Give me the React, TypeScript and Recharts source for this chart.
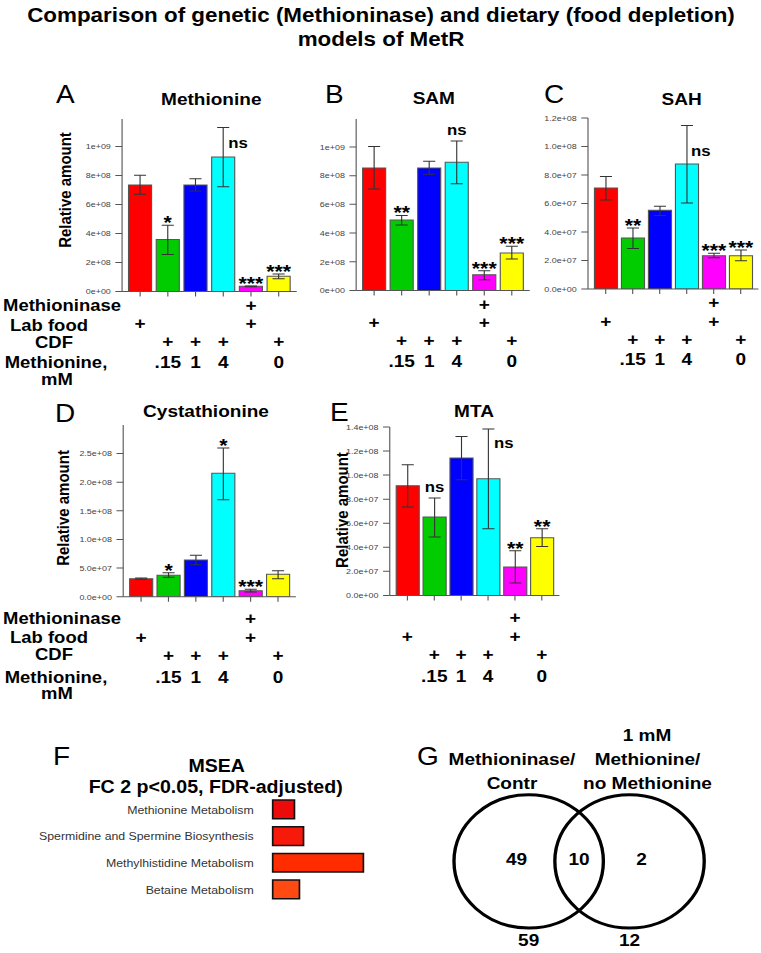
import React from "react";
import {
  ComposedChart,
  BarChart,
  ScatterChart,
  Bar,
  Scatter,
  XAxis,
  YAxis,
  ErrorBar,
  LabelList,
  Cell,
} from "recharts";

// the published figure is stretched sideways, so everything is drawn narrower and scaled
const S = 1.12;
const u = (v: number) => v / S;
const FONT = '"Liberation Sans", Arial, Helvetica, sans-serif';

// groups shared by panels A-E
const groups = ["Lab food", "CDF .15", "CDF 1", "CDF 4", "Methioninase", "CDF 0"];
const barColors = ["#ff0000", "#00cc00", "#0000ff", "#00ffff", "#ff00ff", "#ffff00"];
const rowMethioninase = ["", "", "", "", "+", ""];
const rowLabFood = ["+", "", "", "", "+", ""];
const rowCDF = ["", "+", "+", "+", "", "+"];
const rowMethionine = ["", ".15", "1", "4", "", "0"];
const rowNames = ["Methioninase", "Lab food", "CDF", "Methionine,", "mM"];

// A - Methionine
const methionineMean = [7.34e8, 3.58e8, 7.34e8, 9.28e8, 0.35e8, 1.04e8];
const methionineLow = [6.7e8, 2.54e8, 6.93e8, 7.23e8, 0.32e8, 0.88e8];
const methionineHigh = [8.01e8, 4.57e8, 7.78e8, 11.32e8, 0.38e8, 1.2e8];
const methionineSig = ["", "*", "", "ns", "***", "***"];

// B - SAM
const samMean = [8.53e8, 4.91e8, 8.53e8, 8.93e8, 1.09e8, 2.61e8];
const samLow = [7.07e8, 4.56e8, 8.1e8, 7.44e8, 0.75e8, 2.19e8];
const samHigh = [10.04e8, 5.23e8, 9.0e8, 10.42e8, 1.37e8, 3.07e8];
const samSig = ["", "**", "", "ns", "***", "***"];

// C - SAH
const sahMean = [7.09e7, 3.58e7, 5.52e7, 8.77e7, 2.34e7, 2.34e7];
const sahLow = [6.25e7, 2.85e7, 5.16e7, 6.04e7, 2.2e7, 1.99e7];
const sahHigh = [7.9e7, 4.28e7, 5.8e7, 11.48e7, 2.5e7, 2.74e7];
const sahSig = ["", "**", "", "ns", "***", "***"];

// D - Cystathionine
const cystaMean = [3.15e7, 3.74e7, 6.42e7, 21.57e7, 1.05e7, 3.92e7];
const cystaLow = [3.04e7, 3.39e7, 5.6e7, 16.96e7, 0.82e7, 3.15e7];
const cystaHigh = [3.26e7, 4.2e7, 7.24e7, 26.0e7, 1.3e7, 4.55e7];
const cystaSig = ["", "*", "", "*", "***", ""];

// E - MTA
const mtaMean = [9.12e7, 6.52e7, 11.42e7, 9.7e7, 2.36e7, 4.8e7];
const mtaLow = [7.35e7, 4.85e7, 9.62e7, 5.54e7, 1.03e7, 4.07e7];
const mtaHigh = [10.86e7, 8.1e7, 13.22e7, 13.83e7, 3.72e7, 5.54e7];
const mtaSig = ["", "ns", "", "ns", "**", "**"];

const ticksE9 = [0, 2e8, 4e8, 6e8, 8e8, 1e9];
const ticksSah = [0, 2e7, 4e7, 6e7, 8e7, 1e8, 1.2e8];
const ticksCysta = [0, 5e7, 1e8, 1.5e8, 2e8, 2.5e8];
const ticksMta = [0, 2e7, 4e7, 6e7, 8e7, 1e8, 1.2e8, 1.4e8];

// F - MSEA
const pathways = [
  "Methionine Metabolism",
  "Spermidine and Spermine Biosynthesis",
  "Methylhistidine Metabolism",
  "Betaine Metabolism",
];
const enrichment = [2.4, 3.4, 10, 2.95];
const pathwayColors = ["#ec0a0a", "#f7190a", "#ff2c00", "#ff4a14"];

// G - Venn counts
const vennOnlyLeft = 49;
const vennBoth = 10;
const vennOnlyRight = 2;
const vennTotalLeft = 59;
const vennTotalRight = 12;

type Frame = { l: number; t: number; r: number; b: number };
type PanelDef = {
  means: number[];
  lows: number[];
  highs: number[];
  sig: string[];
  yMax: number;
  ticks: number[];
  digits: number;
  frame: Frame;
  rows: number[];
  nsRight?: { dx: number; dy: number };
};

const rowsTop = [19.3, 37.8, 55.8, 76.3];
const rowsBottom = [27.6, 46.6, 64.3, 86.3];

const panels: PanelDef[] = [
  { means: methionineMean, lows: methionineLow, highs: methionineHigh, sig: methionineSig, yMax: 1.19e9, ticks: ticksE9, digits: 0,
    frame: { l: 122, t: 119.3, r: 296.7, b: 291.7 }, rows: rowsTop, nsRight: { dx: 5, dy: -12.7 } },
  { means: samMean, lows: samLow, highs: samHigh, sig: samSig, yMax: 1.195e9, ticks: ticksE9, digits: 0,
    frame: { l: 355.7, t: 119.3, r: 529.3, b: 290.7 }, rows: rowsTop },
  { means: sahMean, lows: sahLow, highs: sahHigh, sig: sahSig, yMax: 1.2e8, ticks: ticksSah, digits: 1,
    frame: { l: 588.3, t: 118.3, r: 758.7, b: 289.3 }, rows: rowsTop, nsRight: { dx: 4, dy: -11.6 } },
  { means: cystaMean, lows: cystaLow, highs: cystaHigh, sig: cystaSig, yMax: 3.0e8, ticks: ticksCysta, digits: 1,
    frame: { l: 123.3, t: 425, r: 296, b: 596.7 }, rows: rowsBottom },
  { means: mtaMean, lows: mtaLow, highs: mtaHigh, sig: mtaSig, yMax: 1.4e8, ticks: ticksMta, digits: 1,
    frame: { l: 389.3, t: 427.3, r: 559, b: 595.7 }, rows: rowsBottom, nsRight: { dx: 5.6, dy: -35 } },
];

const sci = (d: number) => (v: number) =>
  v.toExponential(d).replace(/e([+-])(\d)$/, (_m, s, n) => "e" + s + "0" + n);

function RowTick(props: any) {
  const { x, y, payload, rows } = props;
  const i = groups.indexOf(payload.value);
  const base = y - 5;
  const lines = [rowMethioninase, rowLabFood, rowCDF, rowMethionine];
  return (
    <g>
      {lines.map((r, k) =>
        r[i] ? (
          <text key={k} x={x} y={base + rows[k]} textAnchor="middle" fontSize={17} fontWeight="bold" fill="#000" fontFamily={FONT}>
            {r[i]}
          </text>
        ) : null
      )}
    </g>
  );
}

function PathwayTick(props: any) {
  const { x, y, payload } = props;
  return (
    <text x={x} y={y} textAnchor="end" dominantBaseline="central" fontSize={11} fill="#333" fontFamily={FONT}>
      {payload.value}
    </text>
  );
}

function SigLabel({ p, def }: { p: any; def: PanelDef }) {
  const vb = p.viewBox && p.viewBox.width != null ? p.viewBox : p;
  const x = Number(vb.x);
  const y = Number(vb.y);
  const w = Number(vb.width);
  const h = Number(vb.height);
  const i = Number(p.value);
  const text = def.sig[i];
  if (!text || isNaN(x)) return null;
  const top = Math.min(y, y + h);
  const base = Math.max(y, y + h);
  const pxPer = (base - top) / def.means[i];
  const errTop = base - def.highs[i] * pxPer;
  const cx = x + w / 2;
  const star = text.includes("*");
  const fs = star ? 19 : 15;
  if (text === "ns" && i === 3 && def.nsRight) {
    return (
      <text x={cx + u(def.nsRight.dx)} y={top + def.nsRight.dy + 0.26 * fs} fontSize={fs} fontWeight="bold" fontFamily={FONT} fill="#000">
        {text}
      </text>
    );
  }
  const yb = star ? errTop - 7 + 0.575 * fs : errTop - 10 + 0.26 * fs;
  return (
    <text x={cx} y={yb} textAnchor="middle" fontSize={fs} fontWeight="bold" fontFamily={FONT} fill="#000">
      {text}
    </text>
  );
}

function BarPanel({ def }: { def: PanelDef }) {
  const { frame } = def;
  const plotW = u(frame.r - frame.l);
  const plotH = frame.b - frame.t;
  const PL = 54;
  const TOP = 40;
  const BOTTOM = 100;
  const RIGHT = 2;
  const data = groups.map((g, i) => ({
    group: g,
    idx: i,
    mean: def.means[i],
    err: [def.means[i] - def.lows[i], def.highs[i] - def.means[i]],
  }));
  return (
    <div style={{ position: "absolute", left: u(frame.l) - PL, top: frame.t - TOP }}>
      <ComposedChart
        width={PL + plotW + RIGHT}
        height={TOP + plotH + BOTTOM}
        data={data}
        margin={{ top: TOP, right: RIGHT, bottom: 0, left: PL - 40 }}
      >
        <XAxis
          dataKey="group"
          height={BOTTOM}
          interval={0}
          tickSize={5}
          tickMargin={0}
          padding={{ left: 3.75, right: 3.75 }}
          stroke="#555"
          tick={<RowTick rows={def.rows} />}
        />
        <XAxis xAxisId="top" orientation="top" dataKey="group" height={0} tick={false} tickLine={false} stroke="#555" />
        <YAxis
          domain={[0, def.yMax]}
          ticks={def.ticks}
          allowDataOverflow
          width={40}
          tickSize={6}
          tickMargin={4}
          stroke="#555"
          tickFormatter={sci(def.digits)}
          tick={{ fontSize: 8, fill: "#444", fontFamily: FONT }}
        />
        <YAxis yAxisId="right" orientation="right" width={0} tick={false} tickLine={false} stroke="#555" />
        <Bar dataKey="mean" barSize={20.6} stroke="#555" strokeWidth={1} isAnimationActive={false}>
          {barColors.map((c) => (
            <Cell key={c} fill={c} />
          ))}
          <ErrorBar dataKey="err" width={5.4} stroke="#333" strokeWidth={1} />
          <LabelList dataKey="idx" content={(p: any) => <SigLabel p={p} def={def} />} />
        </Bar>
      </ComposedChart>
    </div>
  );
}

function MseaPanel() {
  const data = pathways.map((name, i) => ({ name, value: enrichment[i] }));
  const plotLeft = u(272.7);
  const plotW = u(90.7);
  const bandH = 26.7;
  return (
    <div style={{ position: "absolute", left: 0, top: 809.3 - bandH / 2 }}>
      <BarChart
        layout="vertical"
        width={plotLeft + plotW + 4}
        height={bandH * pathways.length}
        data={data}
        margin={{ top: 0, right: 4, bottom: 0, left: plotLeft - 240 }}
      >
        <XAxis type="number" domain={[0, 10]} hide />
        <YAxis
          type="category"
          dataKey="name"
          width={240}
          tickLine={false}
          axisLine={false}
          tickSize={0}
          tickMargin={17}
          interval={0}
          tick={<PathwayTick />}
        />
        <Bar dataKey="value" barSize={18.7} stroke="#111" strokeWidth={1.5} isAnimationActive={false}>
          {pathwayColors.map((c) => (
            <Cell key={c} fill={c} />
          ))}
        </Bar>
      </BarChart>
    </div>
  );
}

function VennPanel() {
  const R = 66.7; // px per unit, circle radius is 1 unit
  const dist = 1.35;
  const xDom = [-1.2, 2.55];
  const yDom = [-1.5, 1.1];
  const circles = [{ x: 0, y: 0 }, { x: dist, y: 0 }];
  const leftLune = (-1 + (dist - 1)) / 2;
  const rightLune = (1 + dist + 1) / 2;
  const counts = [
    { x: (0 + leftLune) / 2, y: 0, t: String(vennOnlyLeft) },
    { x: dist / 2, y: 0, t: String(vennBoth) },
    { x: (dist + rightLune) / 2, y: 0, t: String(vennOnlyRight) },
  ];
  const totals = [
    { x: 0, y: -1, t: String(vennTotalLeft) },
    { x: dist, y: -1, t: String(vennTotalRight) },
  ];
  const txt = (dy: number) => (p: any) => (
    <text x={p.cx} y={p.cy + dy} textAnchor="middle" fontSize={17} fontWeight="bold" fontFamily={FONT} fill="#000">
      {p.payload.t}
    </text>
  );
  return (
    <div style={{ position: "absolute", left: u(529.2) + xDom[0] * R, top: 861.7 - yDom[1] * R }}>
      <ScatterChart
        width={(xDom[1] - xDom[0]) * R}
        height={(yDom[1] - yDom[0]) * R}
        margin={{ top: 0, right: 0, bottom: 0, left: 0 }}
      >
        <XAxis type="number" dataKey="x" domain={xDom} hide />
        <YAxis type="number" dataKey="y" domain={yDom} hide />
        <Scatter
          data={circles}
          isAnimationActive={false}
          shape={(p: any) => <circle cx={p.cx} cy={p.cy} r={R} fill="none" stroke="#000" strokeWidth={3} />}
        />
        <Scatter data={counts} isAnimationActive={false} shape={txt(4)} />
        <Scatter data={totals} isAnimationActive={false} shape={txt(18)} />
      </ScatterChart>
    </div>
  );
}

function Overlay() {
  const T = (x: number, y: number, s: string, fs: number, bold = true, anchor = "middle", fill = "#000") => (
    <text key={s + x + y} x={u(x)} y={y} fontSize={fs} fontWeight={bold ? "bold" : "normal"} textAnchor={anchor as any} fill={fill} fontFamily={FONT}>
      {s}
    </text>
  );
  const rowX = [62, 49, 54, 56, 57];
  const rowYTop = [310.7, 330.7, 348.3, 368.3, 385];
  const rowYBottom = [624, 643.3, 660, 683.3, 699.3];
  const yLabel = (x: number, y: number) => (
    <text
      key={"yl" + y}
      x={u(x)}
      y={y}
      transform={`rotate(-90 ${u(x)} ${y})`}
      textAnchor="middle"
      dominantBaseline="central"
      fontSize={15}
      fontWeight="bold"
      fontFamily={FONT}
    >
      Relative amount
    </text>
  );
  return (
    <svg width={u(761)} height={953} style={{ position: "absolute", left: 0, top: 0, pointerEvents: "none" }}>
      {T(381, 22, "Comparison of genetic (Methioninase) and dietary (food depletion)", 20)}
      {T(381, 46, "models of MetR", 20)}
      {T(56, 103.3, "A", 25, false, "start")}
      {T(325, 103.3, "B", 25, false, "start")}
      {T(544, 103.3, "C", 25, false, "start")}
      {T(55, 422, "D", 25, false, "start")}
      {T(330, 421, "E", 25, false, "start")}
      {T(53, 765, "F", 25, false, "start")}
      {T(417, 765, "G", 25, false, "start")}
      {T(211.3, 105, "Methionine", 17)}
      {T(433.8, 104.5, "SAM", 17)}
      {T(681.7, 105, "SAH", 17)}
      {T(206, 417.5, "Cystathionine", 17)}
      {T(474, 417.5, "MTA", 17)}
      {rowNames.map((n, k) => T(rowX[k], rowYTop[k], n, 16.5))}
      {rowNames.map((n, k) => T(rowX[k], rowYBottom[k], n, 16.5))}
      {yLabel(65, 190)}
      {yLabel(63, 508)}
      {yLabel(342, 510)}
      {T(216.7, 771.7, "MSEA", 17.5)}
      {T(215.7, 793.5, "FC 2 p<0.05, FDR-adjusted)", 17.5)}
      {T(512, 765, "Methioninase/", 17)}
      {T(512, 789.3, "Contr", 17)}
      {T(647, 741, "1 mM", 17)}
      {T(647.5, 765, "Methionine/", 17)}
      {T(647.5, 789.3, "no Methionine", 17)}
    </svg>
  );
}

export default function App() {
  return (
    <div
      style={{
        position: "absolute",
        left: 0,
        top: 0,
        width: u(761),
        height: 953,
        transform: `scaleX(${S})`,
        transformOrigin: "0 0",
        fontFamily: FONT,
        background: "#fff",
        overflow: "hidden",
      }}
    >
      {panels.map((def, i) => (
        <BarPanel key={i} def={def} />
      ))}
      <MseaPanel />
      <VennPanel />
      <Overlay />
    </div>
  );
}
